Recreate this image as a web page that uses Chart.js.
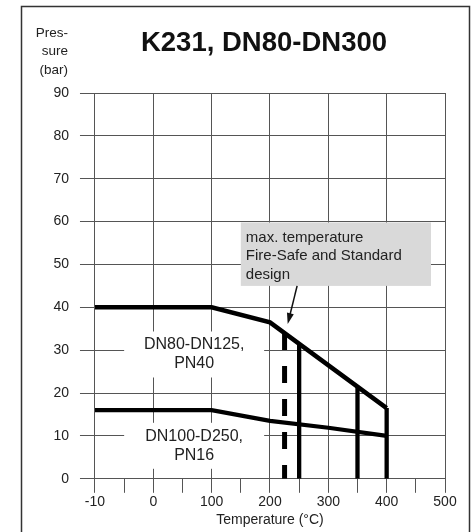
<!DOCTYPE html>
<html>
<head>
<meta charset="utf-8">
<script src="https://cdn.jsdelivr.net/npm/chart.js@4.4.1/dist/chart.umd.min.js"></script>
<style>
  html, body { margin: 0; padding: 0; background: #fff; }
  #wrap { width: 474px; height: 532px; }
</style>
</head>
<body>
<div id="wrap"><canvas id="chart" width="474" height="532"></canvas></div>
<script>
// ---------- Data ----------
const tempLabels = ['-10', '0', '100', '200', '300', '400', '500'];
const pn40Temp = [-10, 100, 200, 400];
const pn40Bar  = [40, 40, 36.5, 16.5];
const pn16Temp = [-10, 100, 200, 300, 400];
const pn16Bar  = [16, 16, 13.5, 11.9, 10];
const limitTemp = [250, 350, 400];
const limitBar  = [31.5, 21.5, 16.5];
const fireSafeTemp = 225;
const fireSafeBar  = 34;

const FONT = "'Liberation Sans', Arial, Helvetica, sans-serif";
const GRID = '#555';

// the axis is broken: -10..0 gets the same width as 0..100
function tempPos(t) { return t < 0 ? 1 + t / 10 : 1 + t / 100; }
function pts(ts, bs) { return ts.map((t, i) => ({ x: tempPos(t), y: bs[i] })); }

function lineSet(data, width, dash) {
  return {
    data, showLine: true, borderColor: '#000', backgroundColor: '#000',
    borderWidth: width, pointRadius: 0, borderDash: dash || [],
    borderCapStyle: 'butt', borderJoinStyle: 'miter', tension: 0
  };
}

const datasets = [
  lineSet(pts(pn40Temp, pn40Bar), 4.5),
  lineSet(pts(pn16Temp, pn16Bar), 4.2),
  ...limitTemp.map((t, i) => lineSet(pts([t, t], [0, limitBar[i]]), 4.3)),
  lineSet(pts([fireSafeTemp, fireSafeTemp], [fireSafeBar, 0]), 5, [17, 16])
];

// ---------- Decorations ----------
const decor = {
  id: 'decor',
  beforeDatasetsDraw(chart) {
    const { ctx, scales: { x, y } } = chart;
    const px = t => x.getPixelForValue(tempPos(t));
    ctx.save();
    // white patches behind series labels
    const labels = [
      { t: 70, b: 29, lines: ['DN80-DN125,', 'PN40'] },
      { t: 70, b: 7.7, lines: ['DN100-D250,', 'PN16'] }
    ];
    ctx.font = '16px ' + FONT;
    ctx.textAlign = 'center';
    ctx.textBaseline = 'middle';
    labels.forEach(l => {
      const cx = px(l.t), cy = y.getPixelForValue(l.b);
      ctx.fillStyle = '#fff';
      ctx.fillRect(cx - 70, cy - 23, 140, 46);
      ctx.fillStyle = '#222';
      ctx.fillText(l.lines[0], cx, cy - 9.5);
      ctx.fillText(l.lines[1], cx, cy + 9.5);
    });
    // grey note box
    const bx0 = px(150), bx1 = px(476), by0 = y.getPixelForValue(59.8), by1 = y.getPixelForValue(45);
    ctx.fillStyle = '#d9d9d9';
    ctx.fillRect(bx0, by0, bx1 - bx0, by1 - by0);
    ctx.fillStyle = '#222';
    ctx.font = '15px ' + FONT;
    ctx.textAlign = 'left';
    ['max. temperature', 'Fire-Safe and Standard', 'design'].forEach((s, i) => {
      ctx.fillText(s, bx0 + 5, by0 + 15 + i * 18.5);
    });
    ctx.restore();
  },
  afterDatasetsDraw(chart) {
    const { ctx, scales: { x, y } } = chart;
    const px = t => x.getPixelForValue(tempPos(t));
    const x0 = px(246.5), y0 = y.getPixelForValue(45);
    const x1 = px(230.4), y1 = y.getPixelForValue(36.1);
    const a = Math.atan2(y1 - y0, x1 - x0);
    ctx.save();
    ctx.strokeStyle = '#111';
    ctx.fillStyle = '#111';
    ctx.lineWidth = 1.5;
    ctx.beginPath();
    ctx.moveTo(x0, y0);
    ctx.lineTo(x1 - 8 * Math.cos(a), y1 - 8 * Math.sin(a));
    ctx.stroke();
    ctx.beginPath();
    ctx.moveTo(x1, y1);
    ctx.lineTo(x1 - 11 * Math.cos(a) + 3.5 * Math.sin(a), y1 - 11 * Math.sin(a) - 3.5 * Math.cos(a));
    ctx.lineTo(x1 - 11 * Math.cos(a) - 3.5 * Math.sin(a), y1 - 11 * Math.sin(a) + 3.5 * Math.cos(a));
    ctx.closePath();
    ctx.fill();
    ctx.restore();
  },
  afterDraw(chart) {
    const { ctx } = chart;
    ctx.save();
    // frame
    ctx.strokeStyle = '#333';
    ctx.lineWidth = 1.5;
    ctx.strokeRect(21.5, 6.5, 448, 540);
    // title
    ctx.fillStyle = '#111';
    ctx.font = 'bold 27.5px ' + FONT;
    ctx.textAlign = 'center';
    ctx.textBaseline = 'middle';
    ctx.fillText('K231, DN80-DN300', 264, 43);
    // y axis label
    ctx.fillStyle = '#222';
    ctx.font = '13.5px ' + FONT;
    ctx.textAlign = 'right';
    ctx.fillText('Pres-', 68, 33);
    ctx.fillText('sure', 68, 51.5);
    ctx.fillText('(bar)', 68, 70);
    ctx.restore();
  }
};

Chart.defaults.font.family = FONT;
Chart.defaults.color = '#222';

new Chart(document.getElementById('chart'), {
  type: 'scatter',
  data: { datasets },
  options: {
    responsive: false,
    animation: false,
    layout: { padding: { left: 42.4, right: 29, top: 93, bottom: 0 } },
    plugins: { legend: { display: false }, tooltip: { enabled: false } },
    scales: {
      x: {
        type: 'linear', min: 0, max: 6,
        border: { display: false },
        grid: {
          color: c => Number.isInteger(c.tick && c.tick.value) ? GRID : 'rgba(0,0,0,0)',
          tickColor: GRID, tickLength: 14, lineWidth: 1
        },
        ticks: {
          stepSize: 0.5, autoSkip: false, maxRotation: 0, padding: 1,
          font: { size: 14 },
          callback: v => Number.isInteger(v) ? tempLabels[v] : ''
        },
        title: {
          display: true, text: 'Temperature (°C)', font: { size: 14 },
          padding: { top: 0, bottom: 3.6 }
        }
      },
      y: {
        min: 0, max: 90,
        border: { display: false },
        grid: { color: GRID, tickColor: GRID, tickLength: 15, lineWidth: 1 },
        ticks: { stepSize: 10, padding: 11, font: { size: 14 } }
      }
    }
  },
  plugins: [decor]
});
</script>
</body>
</html>
